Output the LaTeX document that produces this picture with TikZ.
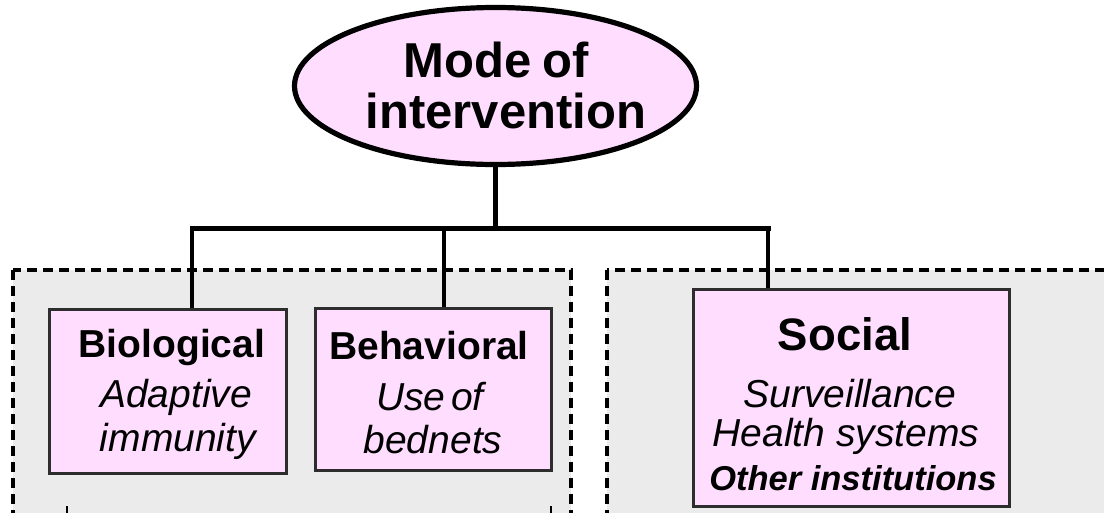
\documentclass[tikz,border=0pt]{standalone}
\usepackage{fontspec}
\setmainfont{Liberation Sans}
\usetikzlibrary{shapes.geometric}
\definecolor{pinkfill}{RGB}{255,221,255}
\definecolor{regiongray}{RGB}{235,235,235}
\definecolor{boxedge}{RGB}{45,45,45}
\tikzset{
  region/.style={draw=black, fill=regiongray, line width=3.2pt, dash pattern=on 10pt off 6pt},
  pinkbox/.style={draw=boxedge, fill=pinkfill, line width=2.6pt, rectangle, inner sep=0pt},
  headell/.style={draw=black, fill=pinkfill, line width=5.2pt, ellipse, inner sep=0pt},
  conn/.style={draw=black, line width=4.2pt},
  lbl/.style={inner sep=0pt, anchor=base},
  headfont/.style={font=\fontsize{49}{54}\selectfont\bfseries},
  titlefont/.style={font=\fontsize{39}{44}\selectfont\bfseries},
  itfont/.style={font=\fontsize{39}{44}\selectfont\itshape},
  socfont/.style={font=\fontsize{45.5}{50}\selectfont\bfseries},
  otherfont/.style={font=\fontsize{34.5}{40}\selectfont\bfseries\itshape}
}
\begin{document}
\begin{tikzpicture}[x=1pt,y=-1pt]
\useasboundingbox (0,0) rectangle (1104,512);
\clip (0,0) rectangle (1104,512);
\fill[white] (0,0) rectangle (1104,512);
% regions
\path[region] (13,270) rectangle (571,540);
\path[region] (607,270) rectangle (1130,540);
% head ellipse
\node[headell, minimum width=402pt, minimum height=157pt] (ell) at (495.5,86) {};
\node[lbl, headfont] (modeA) at (496,77) {Mode\hspace{0.22em}of};
\node[lbl, headfont] (modeB) at (506,128) {intervention};
% boxes
\node[pinkbox, minimum width=237.5pt, minimum height=164.5pt] (bio) at (168,391.5) {};
\node[pinkbox, minimum width=236.5pt, minimum height=162.5pt] (beh) at (433.5,389.5) {};
\node[pinkbox, minimum width=316.5pt, minimum height=216.5pt] (soc) at (851.5,398) {};
% connectors
\coordinate (barL) at (192,228.5);
\coordinate (barM) at (444,228.5);
\coordinate (barR) at (768,228.5);
\draw[conn] (ell.south) -- (ell.south |- barL);
\draw[conn, line width=5pt, line cap=rect] (barL) -- (barR);
\draw[conn] (barL) -- (barL |- bio.north);
\draw[conn] (barM) -- (barM |- beh.north);
\draw[conn] (barR) -- (barR |- soc.north);
% texts
\node[lbl, titlefont] (bioT) at (172,357) {Biological};
\node[lbl, itfont] (bioA) at (176,407) {Adaptive};
\node[lbl, itfont] (bioB) at (178,451) {immunity};
\node[lbl, titlefont] (behT) at (429,359) {Behavioral};
\node[lbl, itfont] (behA) at (430,410) {Use\hspace{0.15em}of};
\node[lbl, itfont] (behB) at (433,453) {bednets};
\node[lbl, socfont] (socT) at (845,350) {Social};
\node[lbl, itfont] (socA) at (850,407) {Surveillance};
\node[lbl, itfont] (socB) at (846,446) {Health systems};
\node[lbl, otherfont] (socC) at (853,490) {Other institutions};
% bracket at bottom of left region
\coordinate (brL) at (67,506);
\coordinate (brR) at (551,506);
\draw[black, line width=2.2pt] (brL) -- ++(0,20) -| (brR);
\end{tikzpicture}
\end{document}
